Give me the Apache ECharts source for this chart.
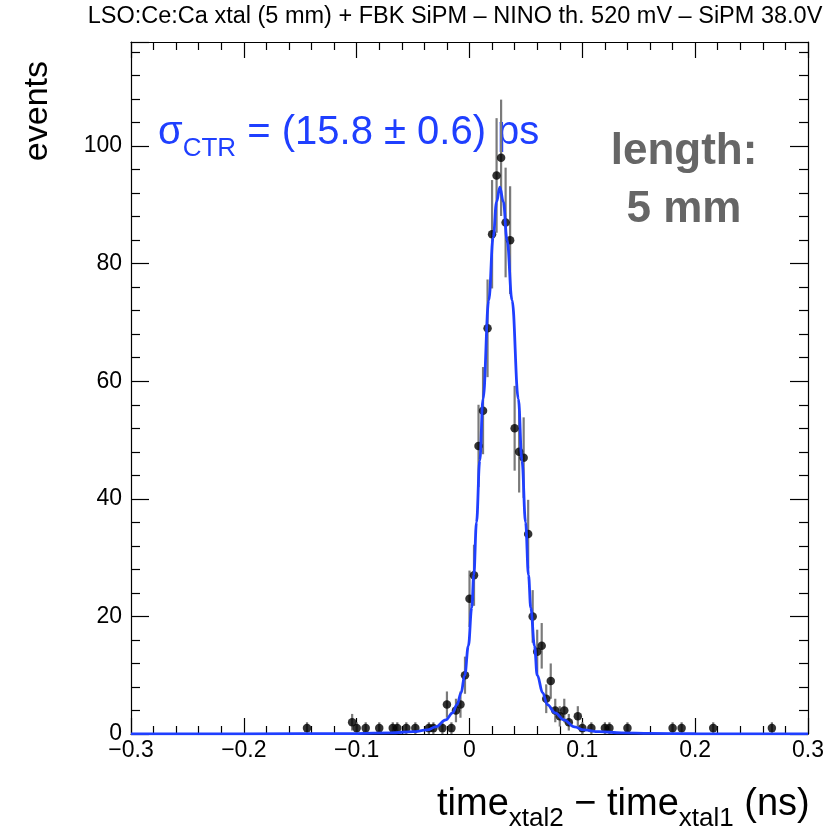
<!DOCTYPE html>
<html><head><meta charset="utf-8">
<script src="https://cdn.jsdelivr.net/npm/echarts@6/dist/echarts.min.js"></script>
<style>html,body{margin:0;padding:0;background:#fff}#c{width:827px;height:833px}</style>
</head><body><div id="c"></div><script>
// ---------- data ----------
const binCenters = [-0.144,-0.104,-0.100,-0.092,-0.080,-0.068,-0.064,-0.056,-0.048,-0.036,-0.032,-0.024,-0.020,-0.016,-0.012,-0.008,-0.004,0.000,0.004,0.008,0.012,0.016,0.020,0.024,0.028,0.032,0.036,0.040,0.044,0.048,0.052,0.056,0.060,0.064,0.068,0.072,0.076,0.080,0.084,0.088,0.096,0.100,0.108,0.120,0.124,0.140,0.180,0.188,0.216,0.268];
const counts = [1,2,1,1,1,1,1,1,1,1,1,1,5,1,4,5,10,23,27,49,55,69,85,95,98,87,84,52,48,47,34,20,14,15,6,9,4,3,4,2,3,1,1,1,1,1,1,1,1,1];
const fitX = [-0.30,-0.20,-0.10,-0.07,-0.05,-0.0375,-0.030,-0.021,-0.015,-0.011,-0.0075,-0.0042,-0.001,0.002,0.0038,0.0062,0.0091,0.012,0.0171,0.021,0.024,0.0269,0.0300,0.0333,0.0377,0.0433,0.0465,0.0497,0.0523,0.0543,0.0576,0.0600,0.0649,0.069,0.0759,0.0837,0.093,0.1014,0.115,0.135,0.16,0.20,0.30];
const fitY = [0.01,0.02,0.08,0.2,0.4,0.7,1.2,2.4,3.6,5,7,10,15,21.5,27,36,46.5,57,73.8,84.5,90.5,93,90.5,84,73.8,57,46.5,36,27,21.5,15,10,7,5,3.6,2.4,1.2,0.7,0.4,0.2,0.1,0.04,0.01];
const xTickValues = [-0.3,-0.2,-0.1,0,0.1,0.2,0.3];
const yTickValues = [0,20,40,60,80,100];
const titleText = 'LSO:Ce:Ca xtal (5 mm) + FBK SiPM \u2013 NINO th. 520 mV \u2013 SiPM 38.0V';

// ---------- helpers ----------
const FONT = '"Liberation Sans", Arial, Helvetica, sans-serif';
const XMIN = -0.3, XMAX = 0.3, YMIN = 0, YMAX = 117.7;
const mctx = document.createElement('canvas').getContext('2d');
function tw(text, font){ mctx.font = font; return mctx.measureText(text).width; }
function fmtX(v){
  const r = Math.round(v*10)/10;
  if (!xTickValues.some(t => Math.abs(t - v) < 1e-9)) return '';
  if (r === 0) return '0';
  return (r < 0 ? '\u2212' : '') + Math.abs(r).toFixed(1);
}
function fmtY(v){
  return yTickValues.some(t => Math.abs(t - v) < 1e-9) ? String(Math.round(v)) : '';
}
// sequence of text segments laid out along a baseline
function textRun(x0, baseline, segs, color, weight){
  const els = [];
  let cx = x0;
  segs.forEach(s => {
    const font = (weight||'normal') + ' ' + s.size + 'px ' + FONT;
    els.push({type:'text', x: cx, y: baseline + (s.dy||0) - 0.31*s.size, silent:true,
      style:{text:s.t, font:font, fill:color, align:'left', verticalAlign:'middle', textAlign:'left', textVerticalAlign:'middle'}});
    cx += tw(s.t, font);
  });
  return els;
}

const chart = echarts.init(document.getElementById('c'), null, {renderer:'canvas'});

const axisX = {
  type:'value', min:XMIN, max:XMAX, interval:0.1,
  splitLine:{show:false},
  axisLine:{show:true, onZero:false, lineStyle:{color:'#000', width:1.2}},
  axisTick:{show:true, inside:true, length:16, lineStyle:{color:'#000', width:1.2}},
  minorTick:{show:true, splitNumber:5, length:8, lineStyle:{color:'#000', width:1.2}},
  minorSplitLine:{show:false}
};
const axisY = {
  type:'value', min:YMIN, max:YMAX, interval:20,
  splitLine:{show:false},
  axisLine:{show:true, onZero:false, lineStyle:{color:'#000', width:1.2}},
  axisTick:{show:true, inside:true, length:18, lineStyle:{color:'#000', width:1.2}},
  minorTick:{show:true, splitNumber:5, length:9, lineStyle:{color:'#000', width:1.2}},
  minorSplitLine:{show:false}
};

const graphics = [];
graphics.push({type:'text', x:455, y:17, silent:true,
  style:{text:titleText, font:'23.5px ' + FONT, fill:'#000', align:'center', verticalAlign:'middle', textAlign:'center', textVerticalAlign:'middle'}});
graphics.push({type:'text', x:38, y:61, rotation:Math.PI/2, silent:true,
  style:{text:'events', font:'34px ' + FONT, fill:'#000', align:'right', verticalAlign:'middle', textAlign:'right', textVerticalAlign:'middle'}});
textRun(437, 816, [
  {t:'time', size:38}, {t:'xtal2', size:26, dy:11}, {t:' \u2212 time', size:38}, {t:'xtal1', size:26, dy:11}, {t:' (ns)', size:38}
], '#000').forEach(e => graphics.push(e));
textRun(158, 145, [
  {t:'\u03c3', size:40}, {t:'CTR', size:26, dy:12}, {t:' = (15.8 \u00b1 0.6) ps', size:40}
], '#1f3fff').forEach(e => graphics.push(e));
graphics.push({type:'text', x:684, y:152, silent:true,
  style:{text:'length:', font:'bold 44px ' + FONT, fill:'#666666', align:'center', verticalAlign:'middle', textAlign:'center', textVerticalAlign:'middle'}});
graphics.push({type:'text', x:684, y:210, silent:true,
  style:{text:'5 mm', font:'bold 44px ' + FONT, fill:'#666666', align:'center', verticalAlign:'middle', textAlign:'center', textVerticalAlign:'middle'}});

const pts = binCenters.map((x, i) => [x, counts[i]]);
const fitPts = fitX.map((x, i) => [x, fitY[i]]);

chart.setOption({
  animation:false,
  backgroundColor:'#fff',
  grid:{left:131, right:19, top:42, bottom:99, containLabel:false},
  xAxis:[
    Object.assign({}, axisX, {position:'bottom', axisLabel:{show:true, color:'#000', fontSize:23, fontFamily:FONT, margin:5, formatter:fmtX, showMinLabel:true, showMaxLabel:true}}),
    Object.assign({}, axisX, {position:'top', axisLabel:{show:false}})
  ],
  yAxis:[
    Object.assign({}, axisY, {position:'left', axisLabel:{show:true, color:'#000', fontSize:23, fontFamily:FONT, margin:9, formatter:fmtY}}),
    Object.assign({}, axisY, {position:'right', axisLabel:{show:false}})
  ],
  series:[
    {
      type:'custom', name:'errors', xAxisIndex:0, yAxisIndex:0, z:2, clip:true,
      data:pts, encode:{x:0, y:1},
      renderItem:function(params, api){
        const x = api.value(0), y = api.value(1), e = Math.sqrt(y);
        const p1 = api.coord([x, Math.max(y - e, YMIN)]);
        const p2 = api.coord([x, Math.min(y + e, YMAX)]);
        return {type:'line', shape:{x1:p1[0], y1:p1[1], x2:p2[0], y2:p2[1]},
          style:{stroke:'#7a7a7a', lineWidth:2.2}};
      }
    },
    {
      type:'scatter', name:'data', xAxisIndex:0, yAxisIndex:0, z:3,
      data:pts, symbol:'circle', symbolSize:8.5,
      itemStyle:{color:'#000'}
    },
    {
      type:'line', name:'fit', xAxisIndex:0, yAxisIndex:0, z:4,
      data:fitPts, showSymbol:false, smooth:0.4, smoothMonotone:'x',
      lineStyle:{color:'#1f3fff', width:2.8}
    }
  ],
  graphic:graphics
});
</script></body></html>
